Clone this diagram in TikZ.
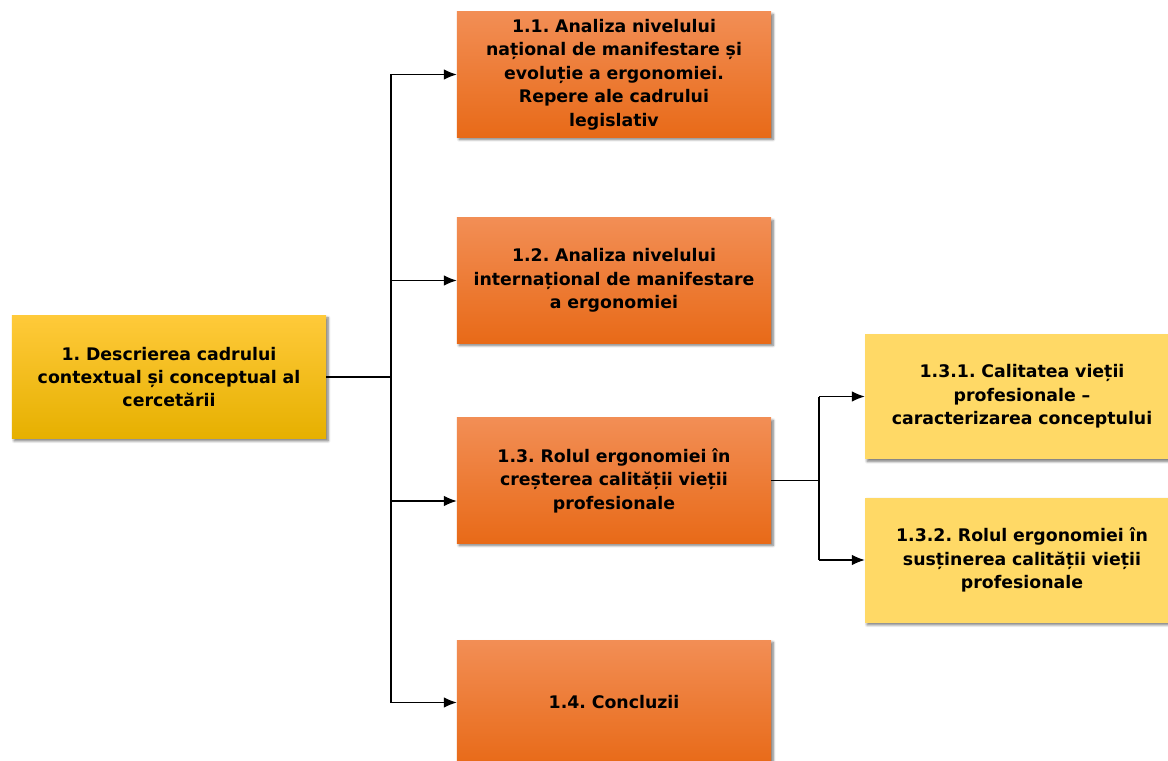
\documentclass[tikz,border=0pt]{standalone}
\usepackage{fontspec}
\setmainfont{DejaVu Sans}
\usetikzlibrary{arrows.meta,shadows.blur}
\definecolor{orTop}{HTML}{F28E55}
\definecolor{orBot}{HTML}{E86A18}
\definecolor{yeTop}{HTML}{FFCA3A}
\definecolor{yeBot}{HTML}{E6B000}
\definecolor{ltYel}{HTML}{FFD966}
\begin{document}
\frenchspacing
\begin{tikzpicture}[x=0.03cm,y=-0.03cm,
  box/.style={rectangle,minimum width=9.42cm,minimum height=3.75cm,
    inner sep=0pt,align=center,text width=9.3cm,
    font=\bfseries\fontsize{14.8}{20}\selectfont,
    blur shadow={shadow xshift=1.8pt,shadow yshift=-2pt,shadow blur steps=6,shadow opacity=55}},
  orbox/.style={box,top color=orTop,bottom color=orBot},
  rootbox/.style={box,top color=yeTop,bottom color=yeBot,minimum height=3.69cm},
  subbox/.style={box,fill=ltYel},
  link/.style={line width=1pt,black},
  arr/.style={link,-{Latex[length=11pt,width=9pt]}}]
\useasboundingbox (0,0) rectangle (1168,761);

\node[rootbox] (root) at (169,377) {1. Descrierea cadrului\\contextual și conceptual al\\cercetării};
\node[orbox] (n11) at (614,74.5) {1.1. Analiza nivelului\\național de manifestare și\\evoluție a ergonomiei.\\Repere ale cadrului\\legislativ};
\node[orbox] (n12) at (614,280.5) {1.2. Analiza nivelului\\internațional de manifestare\\a ergonomiei};
\node[orbox] (n13) at (614,480.5) {1.3. Rolul ergonomiei în\\creșterea calității vieții\\profesionale};
\node[orbox] (n14) at (614,702.5) {1.4. Concluzii};
\node[subbox] (n131) at (1022,396.5) {1.3.1. Calitatea vieții\\profesionale –\\caracterizarea conceptului};
\node[subbox] (n132) at (1022,560) {1.3.2. Rolul ergonomiei în\\susținerea calității vieții\\profesionale};

% main trunk
\coordinate (tr) at (391,377);
\coordinate (top) at (391,74.5);
\coordinate (bot) at (391,702.5);
\draw[link] (root.east) -- (tr);
\draw[link] (top) -- (bot);
\draw[arr] (top) -- (n11.west);
\draw[arr] (391,280.5) -- (n12.west);
\draw[arr] (391,501) -- (n13.west |- 0,501);
\draw[arr] (bot) -- (n14.west);

% branch of 1.3
\coordinate (br) at (819,480.5);
\draw[link] (n13.east) -- (br);
\draw[link] (819,396.5) -- (819,560);
\draw[arr] (819,396.5) -- (n131.west);
\draw[arr] (819,560) -- (n132.west);
\end{tikzpicture}
\end{document}
